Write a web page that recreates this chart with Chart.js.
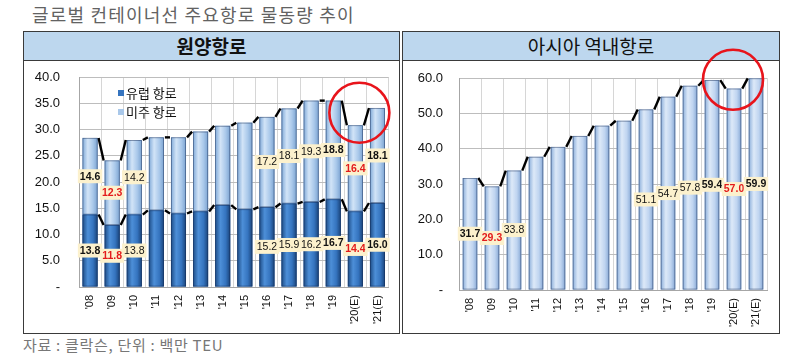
<!DOCTYPE html>
<html><head><meta charset="utf-8">
<script src="https://cdn.jsdelivr.net/npm/chart.js@4.4.0/dist/chart.umd.min.js"></script>
<style>
body{margin:0;background:#fff;width:800px;height:361px;overflow:hidden;position:relative;font-family:"Noto Sans CJK KR",sans-serif;}
#title{position:absolute;left:32px;top:1px;font-size:18px;color:#626262;white-space:nowrap;letter-spacing:1.2px}
.panel{position:absolute;top:31px;height:303px;border:1.5px solid #3a3a3a;box-sizing:border-box;}
.hdr{height:29px;background:#bdd7ee;border-bottom:1.5px solid #3a3a3a;text-align:center;font-size:19px;line-height:28px;color:#111;box-sizing:border-box}
#src{position:absolute;left:23px;top:334px;font-size:15px;color:#777;white-space:nowrap;letter-spacing:0.7px}
canvas{position:absolute;z-index:2}
</style>
</head><body>
<div id="title">글로벌 컨테이너선 주요항로 물동량 추이</div>
<div class="panel" style="left:23px;width:377px"><div class="hdr" style="font-weight:bold">원양항로</div></div>
<div class="panel" style="left:402px;width:378px"><div class="hdr">아시아 역내항로</div></div>
<canvas id="c1" width="375" height="301" style="left:24px;top:31px"></canvas>
<canvas id="c2" width="376" height="301" style="left:403px;top:31px"></canvas>
<div id="src">자료 : 클락슨, 단위 : 백만 TEU</div>
<script>
const years = ["'08","'09","'10","'11","'12","'13","'14","'15","'16","'17","'18","'19","'20(E)","'21(E)"];
const europe = [13.8,11.8,13.8,14.6,14.0,14.4,15.6,14.8,15.2,15.9,16.2,16.7,14.4,16.0];
const transpacific = [14.6,12.3,14.2,13.9,14.5,15.2,15.1,16.5,17.2,18.1,19.3,18.8,16.4,18.1];
const intraAsia = [31.7,29.3,33.8,37.7,40.5,43.6,46.5,47.9,51.1,54.7,57.8,59.4,57.0,59.9];
const seriesNames = ["유럽 항로","미주 항로","아시아 역내항로"];
const leftAxis = {max:40, step:5};
const rightAxis = {max:60, step:10};
const labeledYears = ["'08","'09","'10","'16","'17","'18","'19","'20(E)","'21(E)"];
const boldYears = ["'08","'09","'19","'20(E)","'21(E)"];
const redYears = ["'09","'20(E)"];
const circledYear = "'20(E)";

const shades = {
  "유럽 항로": ['#1d4c86','#4d8fd8','#3574bf','#1a4379'],
  "미주 항로": ['#7fa9d8','#d2e4f7','#a9c8ea','#7ba3d1'],
  "아시아 역내항로": ['#8aaedb','#dde9f8','#bfd4f0','#86a8d5']
};

const shadePlugin = {
  id:'shade',
  afterDatasetDraw(chart, args){
    const ctx = chart.ctx;
    const ds = chart.data.datasets[args.index];
    const st = shades[ds.label];
    ctx.save();
    args.meta.data.forEach(el=>{
      const l = el.x - el.width/2, t = Math.min(el.y, el.base), h = Math.abs(el.base - el.y);
      const g = ctx.createLinearGradient(l,0,l+el.width,0);
      g.addColorStop(0,st[0]); g.addColorStop(0.35,st[1]); g.addColorStop(0.7,st[2]); g.addColorStop(1,st[3]);
      ctx.fillStyle = g;
      ctx.fillRect(l,t,el.width,h);
      ctx.strokeStyle = 'rgba(20,40,80,0.55)'; ctx.lineWidth = 0.8;
      ctx.strokeRect(l+0.4,t+0.4,el.width-0.8,h-0.8);
    });
    ctx.restore();
  }
};

const connectPlugin = {
  id:'connect',
  afterDatasetsDraw(chart){
    const ctx = chart.ctx;
    ctx.save();
    ctx.strokeStyle = '#000'; ctx.lineWidth = 2.4; ctx.lineCap='butt';
    chart.data.datasets.forEach((ds,di)=>{
      const els = chart.getDatasetMeta(di).data;
      for(let i=0;i<els.length-1;i++){
        const a = els[i], b = els[i+1];
        ctx.beginPath();
        ctx.moveTo(a.x + a.width/2 + 1, a.y);
        ctx.lineTo(b.x - b.width/2 - 1, b.y);
        ctx.stroke();
      }
    });
    ctx.restore();
  }
};

const valuePlugin = {
  id:'vals',
  afterDatasetsDraw(chart){
    const ctx = chart.ctx;
    ctx.save();
    chart.data.datasets.forEach((ds,di)=>{
      chart.getDatasetMeta(di).data.forEach((el,i)=>{
        const yr = chart.data.labels[i];
        if(!labeledYears.includes(yr)) return;
        const txt = ds.data[i].toFixed(1);
        ctx.font = (boldYears.includes(yr)?'bold ':'') + '10.5px "Liberation Sans"';
        const w = ctx.measureText(txt).width;
        const cy = (el.y + el.base)/2;
        ctx.fillStyle = '#fcf1cd';
        ctx.fillRect(el.x - w/2 - 2, cy - 7, w + 4, 14);
        ctx.fillStyle = redYears.includes(yr) ? '#e31b1b' : '#111';
        ctx.textAlign='center'; ctx.textBaseline='middle';
        ctx.fillText(txt, el.x, cy + 0.5);
      });
    });
    ctx.restore();
  }
};

function circlePlugin(valueAt, dx){
  return {
    id:'circle',
    afterDraw(chart){
      const ctx = chart.ctx;
      const x = chart.scales.x.getPixelForValue(years.indexOf(circledYear)) + dx;
      const y = chart.scales.y.getPixelForValue(valueAt);
      ctx.save();
      ctx.strokeStyle = '#e8141b'; ctx.lineWidth = 2.6;
      ctx.beginPath(); ctx.arc(x,y,30,0,Math.PI*2); ctx.stroke();
      ctx.restore();
    }
  };
}

const legendPlugin = {
  id:'inlegend',
  afterDraw(chart){
    if(chart.data.datasets.length<2) return;
    const ctx = chart.ctx, a = chart.chartArea;
    ctx.save();
    ctx.font = '13px "Noto Sans CJK KR"';
    ctx.textBaseline='middle'; ctx.textAlign='left';
    chart.data.datasets.forEach((ds,i)=>{
      const y = a.top + 16 + i*19;
      const x = a.left + 39;
      ctx.fillStyle = shades[ds.label][2];
      ctx.fillRect(x, y-3, 6, 6);
      ctx.fillStyle = '#111';
      ctx.fillText(ds.label, x + 8, y);
    });
    ctx.restore();
  }
};

function opts(axis, yWidth, xHeight, pad, tickPad){
  return {
    responsive:false, animation:false,
    layout:{padding:pad},
    plugins:{legend:{display:false}, tooltip:{enabled:false}},
    scales:{
      x:{stacked:true,
        grid:{color:'#d6d6d6', drawTicks:false, offset:true},
        border:{color:'#a6a6a6'},
        ticks:{minRotation:90, maxRotation:90, padding:8, color:'#111', font:{family:'"Liberation Sans"', size:11}},
        afterFit(s){ s.height = xHeight; }
      },
      y:{stacked:true, min:0, max:axis.max,
        grid:{color:'#bdbdbd', drawTicks:false},
        border:{color:'#a6a6a6'},
        ticks:{stepSize:axis.step, padding:tickPad, color:'#111', font:{family:'"Liberation Sans"', size:13},
          callback:v => v===0 ? '-' : v.toFixed(1)},
        afterFit(s){ s.width = yWidth; }
      }
    }
  };
}

new Chart(document.getElementById('c1'), {
  type:'bar',
  data:{labels:years, datasets:[
    {label:seriesNames[0], data:europe, backgroundColor:'#3574bf', borderWidth:0, categoryPercentage:1, barPercentage:0.68},
    {label:seriesNames[1], data:transpacific, backgroundColor:'#a9c8ea', borderWidth:0, categoryPercentage:1, barPercentage:0.68}
  ]},
  options:opts(leftAxis, 55, 45, {top:46, right:9, left:0, bottom:0}, 19),
  plugins:[shadePlugin, connectPlugin, valuePlugin, legendPlugin, circlePlugin(33.2, 4)]
});

new Chart(document.getElementById('c2'), {
  type:'bar',
  data:{labels:years, datasets:[
    {label:seriesNames[2], data:intraAsia, backgroundColor:'#bfd4f0', borderWidth:0, categoryPercentage:1, barPercentage:0.66}
  ]},
  options:opts(rightAxis, 56, 42, {top:47, right:12, left:0, bottom:0}, 16),
  plugins:[shadePlugin, connectPlugin, valuePlugin, circlePlugin(59.5, -1)]
});
</script>
</body></html>
